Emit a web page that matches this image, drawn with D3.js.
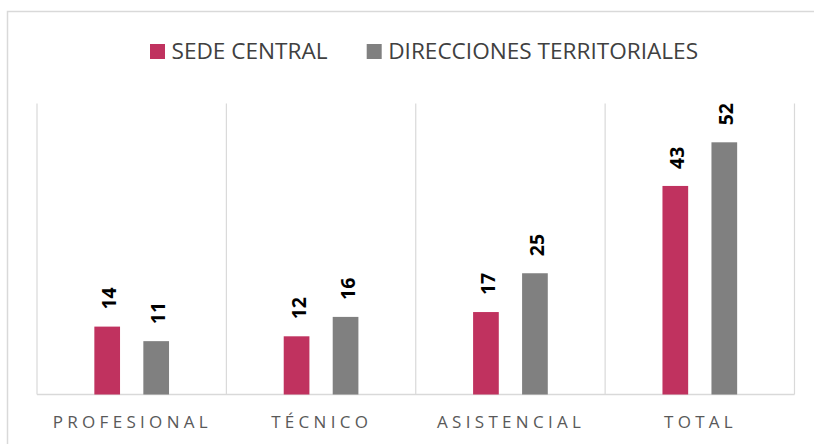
<!DOCTYPE html>
<html>
<head>
<meta charset="utf-8">
<script src="https://cdn.jsdelivr.net/npm/d3@7"></script>
<style>
  html, body { margin: 0; padding: 0; background: #ffffff; }
  svg { display: block; }
</style>
</head>
<body>
<svg id="chart" width="814" height="444"></svg>
<script>
// Personal por nivel: sede central vs. direcciones territoriales
const categories = ["PROFESIONAL", "TÉCNICO", "ASISTENCIAL", "TOTAL"];
const seriesNames = ["SEDE CENTRAL", "DIRECCIONES TERRITORIALES"];
const sedeCentral = [14, 12, 17, 43];
const direccionesTerritoriales = [11, 16, 25, 52];
const seriesColors = ["#C0325F", "#808080"];
const yMax = 60;

const svg = d3.select("#chart");
const W = 814, H = 444;
const margin = { left: 37, right: 19.5, top: 103.5, bottom: 49.5 };
const plotW = W - margin.left - margin.right;
const plotH = H - margin.top - margin.bottom;

// outer chart frame (only its top and left edges fall inside the view)
svg.append("rect")
  .attr("x", 7.5).attr("y", 11.5)
  .attr("width", W + 10).attr("height", H + 10)
  .attr("fill", "none")
  .attr("stroke", "#d9d9d9")
  .attr("stroke-width", 1.5);

const g = svg.append("g").attr("transform", `translate(${margin.left},${margin.top})`);

const x0 = d3.scaleBand().domain(categories).range([0, plotW]).paddingInner(0).paddingOuter(0);
const y = d3.scaleLinear().domain([0, yMax]).range([plotH, 0]);

// category separators
const seps = d3.range(categories.length + 1).map(i => i * x0.bandwidth());
g.selectAll("line.sep").data(seps).enter().append("line")
  .attr("class", "sep")
  .attr("x1", d => d).attr("x2", d => d)
  .attr("y1", 0).attr("y2", plotH)
  .attr("stroke", "#d9d9d9").attr("stroke-width", 1.2);

// baseline
g.append("line")
  .attr("x1", 0).attr("x2", plotW)
  .attr("y1", plotH).attr("y2", plotH)
  .attr("stroke", "#d9d9d9").attr("stroke-width", 1.5);

// bars
const barW = x0.bandwidth() * 0.1357;
const barGap = x0.bandwidth() * 0.123;
const offsets = [-(barGap / 2 + barW / 2), barGap / 2 + barW / 2];
const seriesData = [sedeCentral, direccionesTerritoriales];

seriesData.forEach((vals, si) => {
  const rows = categories.map((c, i) => ({ c, v: vals[i] }));
  g.selectAll(`rect.s${si}`).data(rows).enter().append("rect")
    .attr("class", `s${si}`)
    .attr("x", d => x0(d.c) + x0.bandwidth() / 2 + offsets[si] - barW / 2)
    .attr("width", barW)
    .attr("y", d => y(d.v))
    .attr("height", d => y(0) - y(d.v))
    .attr("fill", seriesColors[si]);

  // value labels, rotated
  g.selectAll(`text.l${si}`).data(rows).enter().append("text")
    .attr("class", `l${si}`)
    .attr("transform", d => {
      const cx = x0(d.c) + x0.bandwidth() / 2 + offsets[si] + 9;
      const ty = y(d.v) - 17;
      return `translate(${cx},${ty}) rotate(-90)`;
    })
    .attr("text-anchor", "start")
    .attr("font-family", "'Open Sans', sans-serif")
    .attr("font-weight", 700)
    .attr("font-size", 19.5)
    .attr("fill", "#000000")
    .text(d => d.v);
});

// category axis labels (letter-spaced)
g.selectAll("text.cat").data(categories).enter().append("text")
  .attr("class", "cat")
  .attr("x", d => x0(d) + x0.bandwidth() / 2 + 0.7)
  .attr("y", plotH + 33.8)
  .attr("text-anchor", "middle")
  .attr("font-family", "'Open Sans', sans-serif")
  .attr("font-size", 17)
  .attr("letter-spacing", "4.3px")
  .attr("fill", "#595959")
  .text(d => d);

// legend
const legendItems = [
  { name: seriesNames[0], color: seriesColors[0], x: 150 },
  { name: seriesNames[1], color: seriesColors[1], x: 366.7 }
];
const lg = svg.append("g");
legendItems.forEach(it => {
  lg.append("rect")
    .attr("x", it.x).attr("y", 44)
    .attr("width", 15).attr("height", 15)
    .attr("fill", it.color);
  lg.append("text")
    .attr("x", it.x + 21.5).attr("y", 59)
    .attr("font-family", "'Open Sans', sans-serif")
    .attr("font-size", 22.6)
    .attr("fill", "#404040")
    .text(it.name);
});
</script>
</body>
</html>
